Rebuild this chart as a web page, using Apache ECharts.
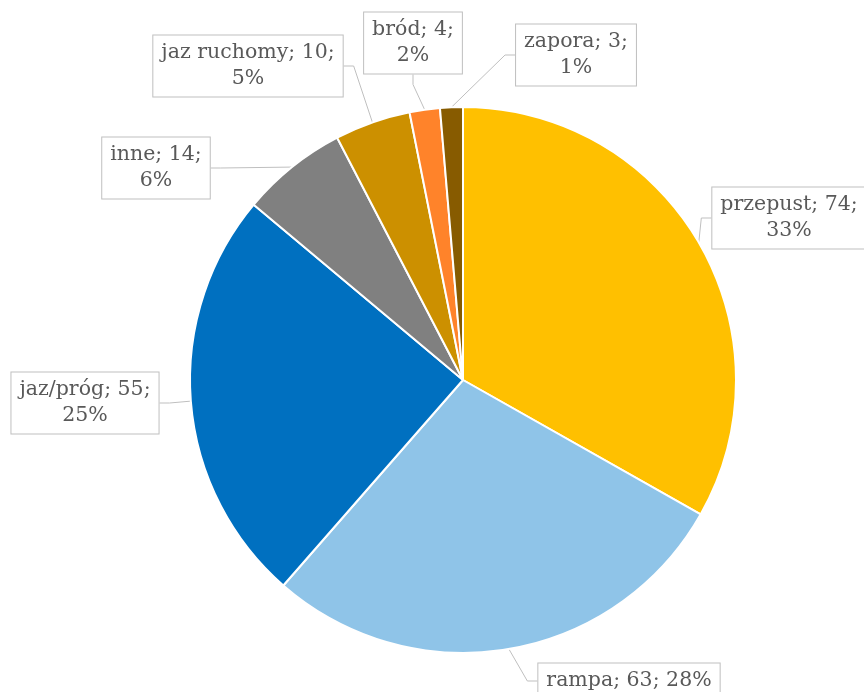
<!DOCTYPE html>
<html><head><meta charset="utf-8">
<script src="https://cdn.jsdelivr.net/npm/echarts@6/dist/echarts.min.js"></script>
<style>html,body{margin:0;padding:0;background:#fff}#c{width:864px;height:692px}</style>
</head><body><div id="c"></div>
<script>
const categories = ['przepust', 'rampa', 'jaz/próg', 'inne', 'jaz ruchomy', 'bród', 'zapora'];
const values = [74, 63, 55, 14, 10, 4, 3];
const colors = ['#FFC000', '#8FC4E8', '#0070C0', '#808080', '#CC9000', '#FF832A', '#875B00'];
// label box centres (layout only)
const labelPos = [[789, 218], [629, 681], [85, 403], [156, 168], [248, 66], [413, 43], [576, 55]];

const chart = echarts.init(document.getElementById('c'));
chart.setOption({
  animation: false,
  series: [{
    type: 'pie',
    center: [463, 380],
    radius: 273,
    startAngle: 90,
    clockwise: true,
    percentPrecision: 0,
    avoidLabelOverlap: false,
    itemStyle: { borderColor: '#fff', borderWidth: 2 },
    label: {
      show: true,
      position: 'outside',
      formatter: '{b}; {c};\n{d}%',
      fontFamily: 'DejaVu Serif',
      fontSize: 20.5,
      lineHeight: 26,
      color: '#595959',
      align: 'center',
      backgroundColor: '#fff',
      borderColor: '#BFBFBF',
      borderWidth: 1,
      padding: [5, 8, 4, 8]
    },
    labelLine: { show: true, length: 10, length2: 10, lineStyle: { color: '#BFBFBF', width: 1 } },
    labelLayout: function (p) {
      const pos = labelPos[p.dataIndex];
      return { x: pos[0], y: pos[1], align: 'center', verticalAlign: 'middle' };
    },
    data: categories.map((n, i) => ({
      name: n, value: values[i], itemStyle: { color: colors[i] },
      label: i === 1 ? { formatter: '{b}; {c}; {d}%' } : undefined
    }))
  }]
});
</script></body></html>
